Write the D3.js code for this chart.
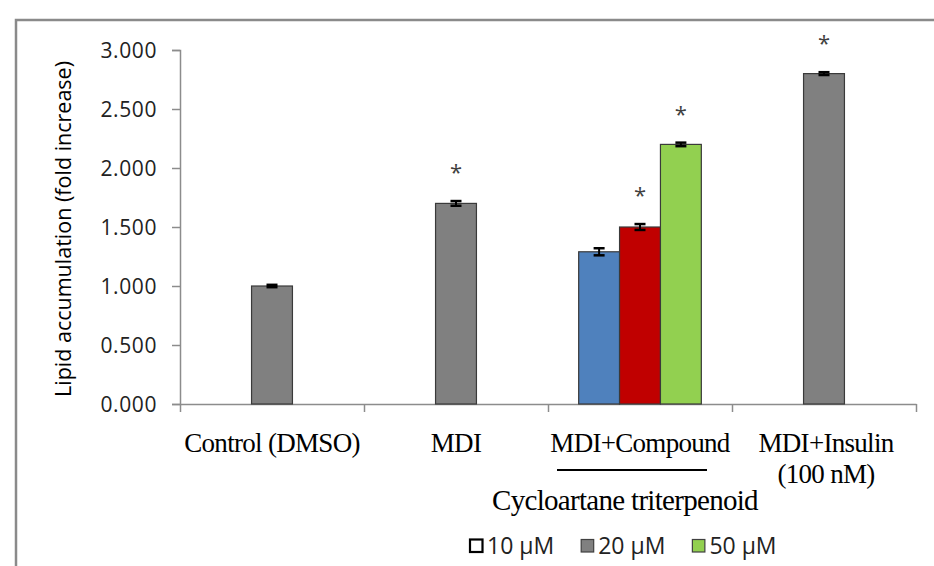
<!DOCTYPE html>
<html>
<head>
<meta charset="utf-8">
<script src="https://cdn.jsdelivr.net/npm/d3@7"></script>
<style>
  html, body { margin: 0; padding: 0; background: #fff; }
  svg { display: block; }
</style>
</head>
<body>
<script>
// ---- data ----
const categories = ["Control (DMSO)", "MDI", "MDI+Compound", "MDI+Insulin (100 nM)"];
const categoryLines = [["Control (DMSO)"], ["MDI"], ["MDI+Compound"], ["MDI+Insulin", "(100 nM)"]];
const seriesNames = ["10 µM", "20 µM", "50 µM"];
const values10 = [null, null, 1.29, null];
const values20 = [1.00, 1.70, 1.50, 2.80];
const values50 = [null, null, 2.20, null];
const errors10 = [null, null, 0.03, null];
const errors20 = [0.01, 0.02, 0.025, 0.012];
const errors50 = [null, null, 0.015, null];
const signif10 = [false, false, false, false];
const signif20 = [false, true, true, true];
const signif50 = [false, false, true, false];
const yTicks = [0, 0.5, 1.0, 1.5, 2.0, 2.5, 3.0];
const yLabel = "Lipid accumulation (fold increase)";
const groupTitle = "Cycloartane triterpenoid";
const groupedCategory = "MDI+Compound";

// colours (bar fills; compound group uses its own palette)
const seriesColors = ["#4F81BD", "#808080", "#92D050"];
const groupColors = ["#4F81BD", "#C00000", "#92D050"];
const legendFills = ["#FFFFFF", "#808080", "#92D050"];
const legendStrokes = ["#000000", "#404040", "#404040"];

const W = 934, H = 566;
const svg = d3.select("body").append("svg").attr("width", W).attr("height", H);

// outer frame
svg.append("rect").attr("x", 16).attr("y", 20).attr("width", W + 20).attr("height", H + 20)
  .attr("fill", "none").attr("stroke", "#8a8a8a").attr("stroke-width", 2.5);

const plot = { left: 180, right: 916, top: 50, bottom: 404 };

const y = d3.scaleLinear().domain([0, 3]).range([plot.bottom, plot.top]);
const x = d3.scaleBand().domain(categories).range([plot.left, plot.right]).paddingInner(0).paddingOuter(0);
const x1 = d3.scaleBand().domain(seriesNames).range([0, x.bandwidth()]).paddingInner(0).paddingOuter(0.75);

const sansFont = "'Open Sans', 'Noto Sans', sans-serif";
const serifFont = "'Liberation Serif', 'Times New Roman', serif";

// y axis
const yAxis = d3.axisLeft(y).tickValues(yTicks).tickFormat(d3.format(".3f")).tickSize(8).tickPadding(15);
const gy = svg.append("g").attr("transform", `translate(${plot.left},0)`).call(yAxis);
gy.select(".domain").attr("stroke", "#8c8c8c").attr("stroke-width", 1.5);
gy.selectAll(".tick line").attr("stroke", "#8c8c8c").attr("stroke-width", 1.5);
gy.selectAll(".tick text").attr("font-family", sansFont).attr("font-size", 21)
  .attr("letter-spacing", "0.6px").attr("fill", "#222").attr("dy", "0.35em");

// x axis (ticks at category boundaries)
const xb = d3.scaleLinear().domain([0, categories.length]).range([plot.left, plot.right]);
const xAxis = d3.axisBottom(xb).tickValues(d3.range(categories.length + 1)).tickFormat("").tickSize(8).tickSizeOuter(0);
const gx = svg.append("g").attr("transform", `translate(0,${plot.bottom})`).call(xAxis);
gx.select(".domain").attr("stroke", "#8c8c8c").attr("stroke-width", 1.5);
gx.selectAll(".tick line").attr("stroke", "#8c8c8c").attr("stroke-width", 1.5);

// y label
svg.append("text")
  .attr("transform", `translate(71,${(plot.top + plot.bottom) / 2 + 2}) rotate(-90)`)
  .attr("text-anchor", "middle")
  .attr("font-family", sansFont).attr("font-size", 21.5).attr("fill", "#000")
  .text(yLabel);

// bars
const allValues = [values10, values20, values50];
const allErrors = [errors10, errors20, errors50];
const allSignif = [signif10, signif20, signif50];
const barData = [];
seriesNames.forEach((s, si) => {
  categories.forEach((c, ci) => {
    const v = allValues[si][ci];
    if (v == null) return;
    barData.push({
      series: s, cat: c, value: v, err: allErrors[si][ci], sig: allSignif[si][ci],
      color: c === groupedCategory ? groupColors[si] : seriesColors[si]
    });
  });
});

const bars = svg.append("g");
bars.selectAll("rect").data(barData).join("rect")
  .attr("x", d => x(d.cat) + x1(d.series))
  .attr("y", d => y(d.value))
  .attr("width", x1.bandwidth())
  .attr("height", d => y(0) - y(d.value))
  .attr("fill", d => d.color)
  .attr("stroke", "#3a3a3a").attr("stroke-width", 1.2);

// error bars
const eb = svg.append("g").attr("stroke", "#000").attr("stroke-width", 2.5);
barData.forEach(d => {
  const cx = x(d.cat) + x1(d.series) + x1.bandwidth() / 2;
  const yt = y(d.value + d.err), ybm = y(d.value - d.err);
  eb.append("line").attr("x1", cx).attr("x2", cx).attr("y1", yt).attr("y2", ybm).attr("stroke-width", 2);
  eb.append("line").attr("x1", cx - 5.5).attr("x2", cx + 5.5).attr("y1", yt).attr("y2", yt);
  eb.append("line").attr("x1", cx - 5.5).attr("x2", cx + 5.5).attr("y1", ybm).attr("y2", ybm);
});

// significance asterisks
svg.append("g").selectAll("text").data(barData.filter(d => d.sig)).join("text")
  .attr("x", d => x(d.cat) + x1(d.series) + x1.bandwidth() / 2)
  .attr("y", d => y(d.value + d.err) - 21)
  .attr("text-anchor", "middle")
  .attr("font-family", sansFont).attr("font-size", 22).attr("fill", "#404040")
  .text("*");

// category labels
const labels = svg.append("g").attr("font-family", serifFont).attr("font-size", 27).attr("fill", "#000")
  .attr("text-anchor", "middle");
categories.forEach((c, ci) => {
  categoryLines[ci].forEach((line, li) => {
    labels.append("text")
      .attr("x", x(c) + x.bandwidth() / 2 + (ci === 3 ? 2 : 0))
      .attr("y", 452 + li * 31)
      .attr("letter-spacing", "-0.7px")
      .text(line);
  });
});

// group underline + title
const gc = x(groupedCategory) + x.bandwidth() / 2;
svg.append("line").attr("x1", gc - 83).attr("x2", gc + 67).attr("y1", 470).attr("y2", 470)
  .attr("stroke", "#000").attr("stroke-width", 2);
svg.append("text").attr("x", gc - 15).attr("y", 510).attr("text-anchor", "middle")
  .attr("font-family", serifFont).attr("font-size", 29).attr("letter-spacing", "-0.7px").attr("fill", "#000")
  .text(groupTitle);

// legend
const legend = svg.append("g");
let lx = 470;
seriesNames.forEach((s, i) => {
  legend.append("rect").attr("x", lx).attr("y", 539.5).attr("width", 12.5).attr("height", 12.5)
    .attr("fill", legendFills[i]).attr("stroke", legendStrokes[i]).attr("stroke-width", i === 0 ? 2.2 : 1.2);
  const t = legend.append("text").attr("x", lx + 17).attr("y", 554)
    .attr("font-family", sansFont).attr("font-size", 23).attr("fill", "#222").text(s);
  lx = lx + 17 + t.node().getComputedTextLength() + 27;
});
</script>
</body>
</html>
